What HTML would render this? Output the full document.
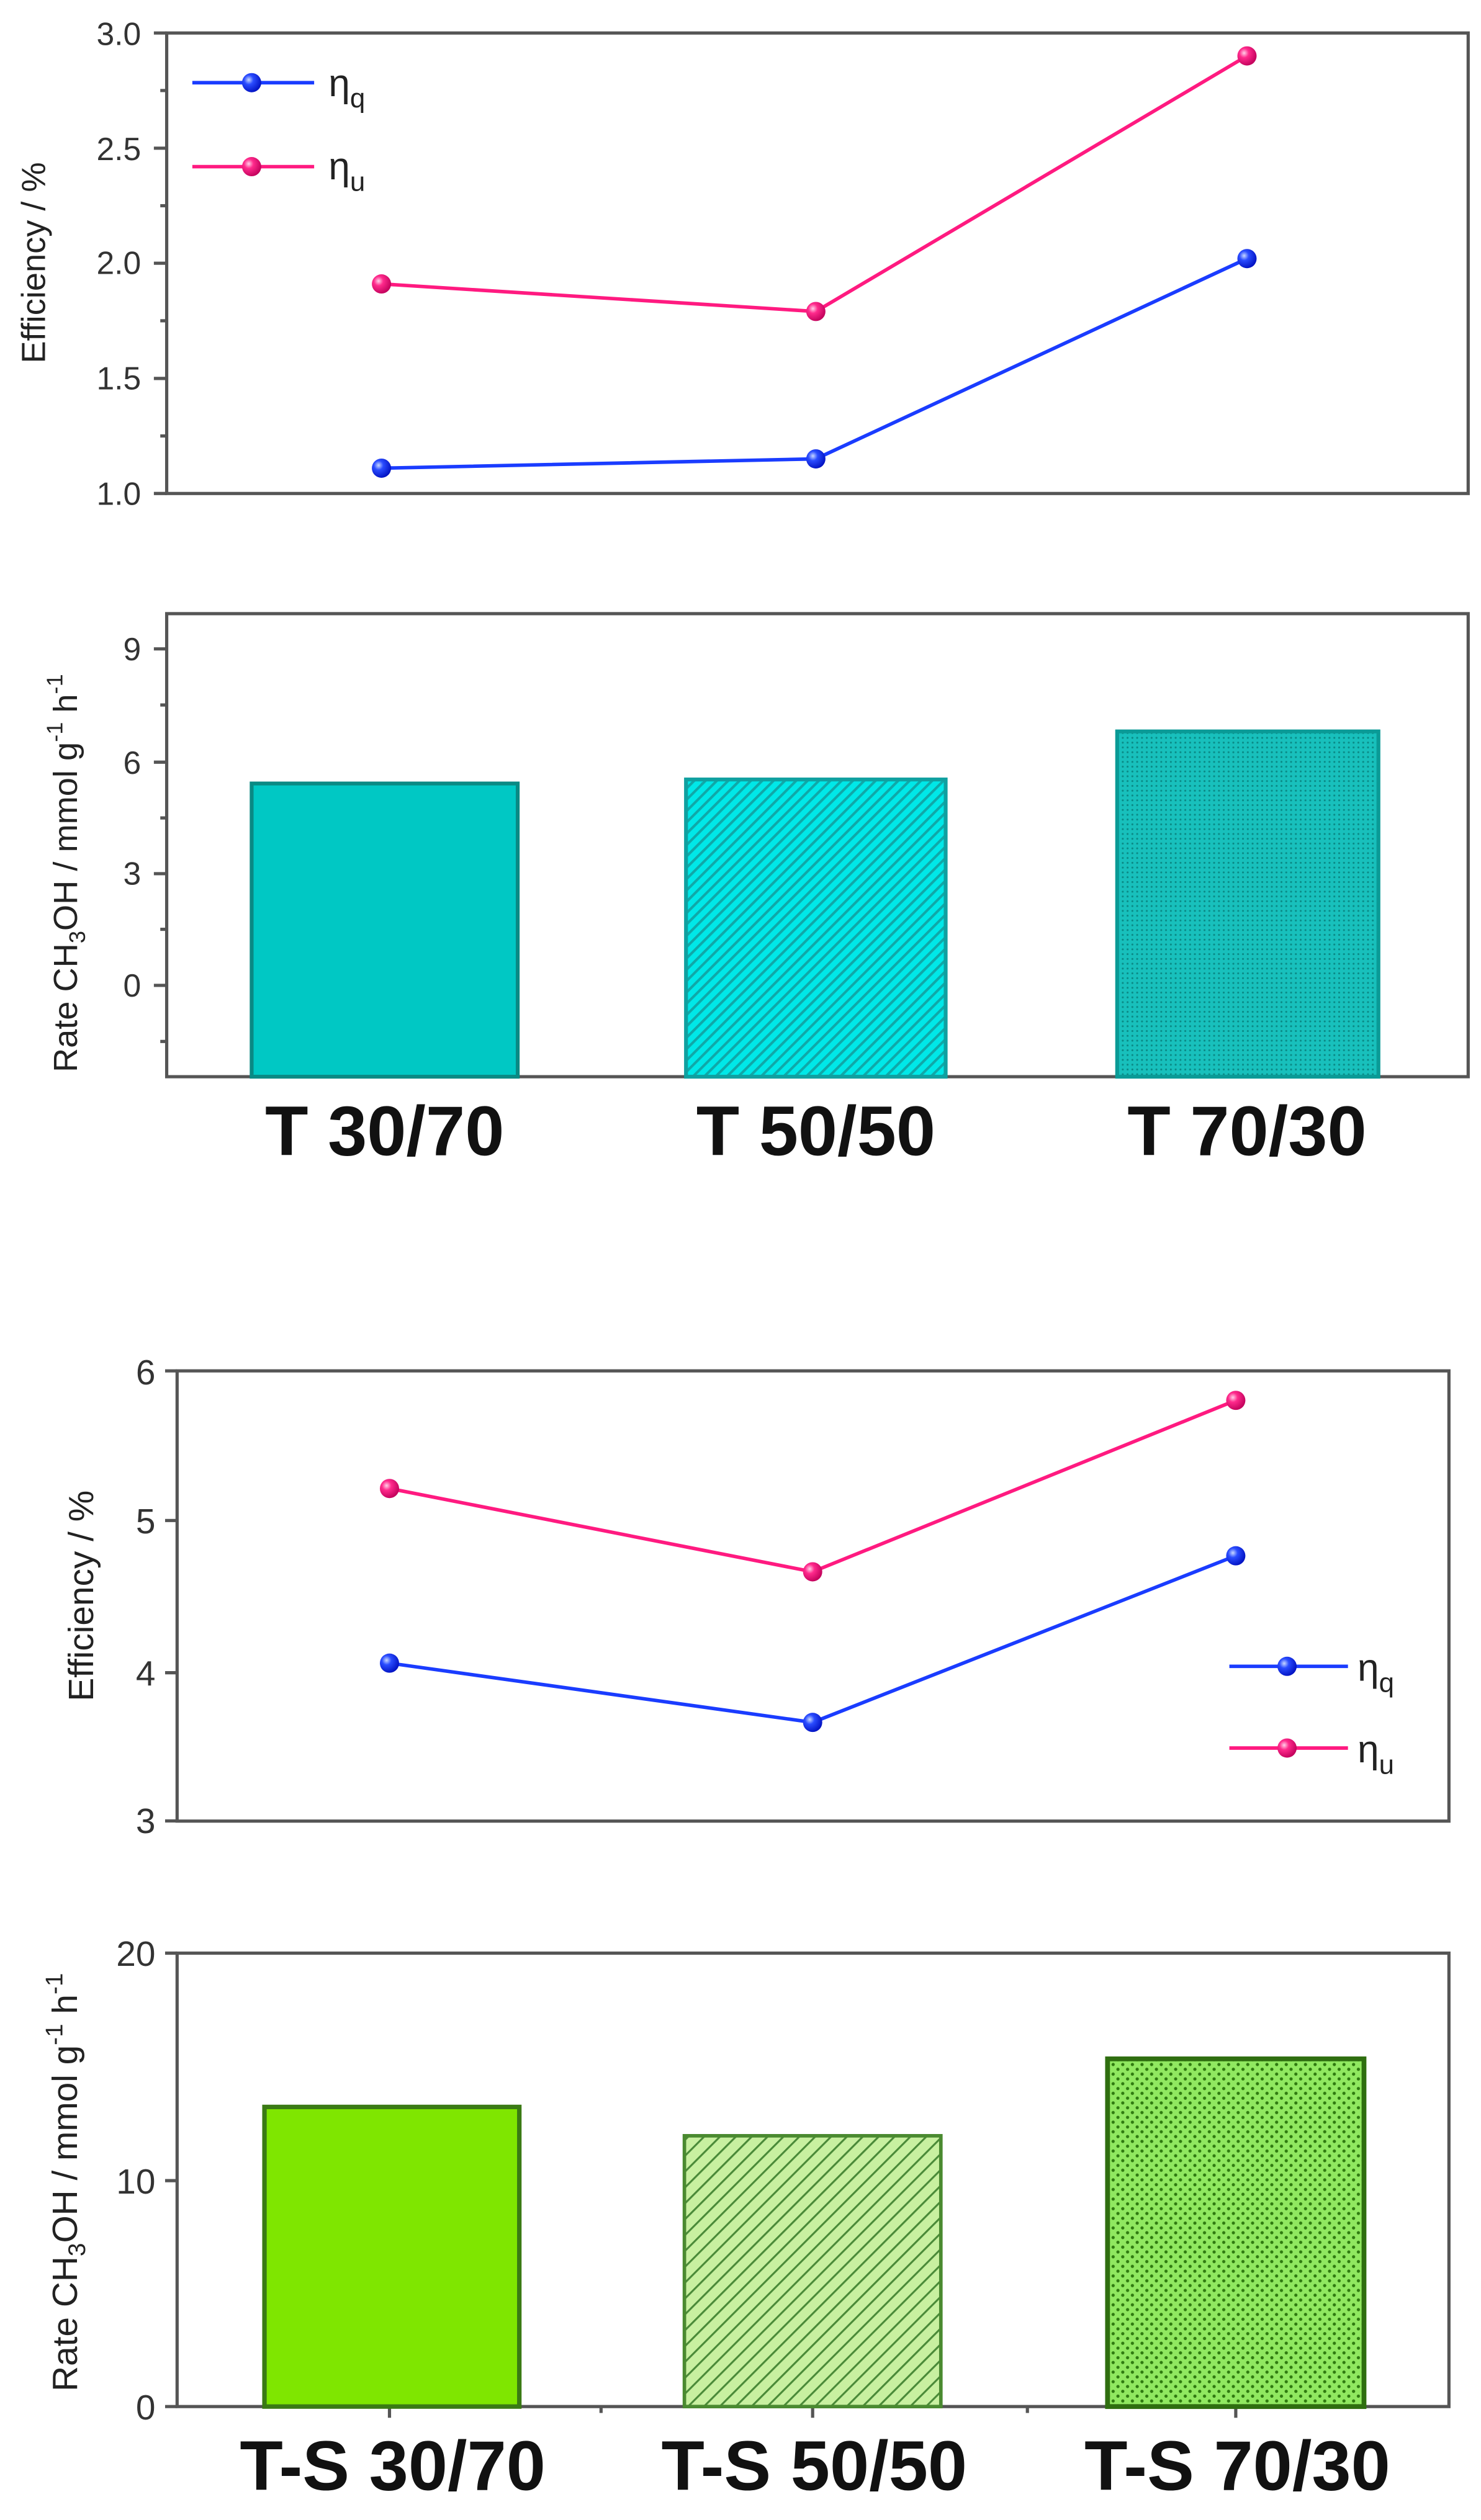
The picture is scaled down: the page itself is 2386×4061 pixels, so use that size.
<!DOCTYPE html>
<html><head><meta charset="utf-8"><style>html,body{margin:0;padding:0;background:#fff}svg{display:block}</style></head>
<body>
<svg width="2386" height="4061" viewBox="0 0 924 1572.8" preserveAspectRatio="none" xmlns="http://www.w3.org/2000/svg" font-family="Liberation Sans, Arial, sans-serif">
<defs>
<pattern id="hatchC" patternUnits="userSpaceOnUse" width="5" height="5" patternTransform="rotate(45)">
<rect width="5" height="5" fill="#00e8e8"/><rect width="1.6" height="5" fill="#10a8a8"/></pattern>
<pattern id="dotC" patternUnits="userSpaceOnUse" width="3" height="3">
<rect width="3" height="3" fill="#18c0bc"/><circle cx="1.5" cy="1.5" r="0.6" fill="#0a8a86"/></pattern>
<pattern id="hatchG" patternUnits="userSpaceOnUse" width="7" height="7" patternTransform="rotate(45)">
<rect width="7" height="7" fill="#c8f0a0"/><rect width="1.2" height="7" fill="#4a8a38"/></pattern>
<pattern id="dotG" patternUnits="userSpaceOnUse" width="6" height="6">
<rect width="6" height="6" fill="#90e860"/><circle cx="1.5" cy="1.5" r="1" fill="#2f7a10"/><circle cx="4.5" cy="4.5" r="1" fill="#2f7a10"/></pattern>
<radialGradient id="gb" cx="0.35" cy="0.35" r="0.7"><stop offset="0" stop-color="#c8d8ff"/><stop offset="0.35" stop-color="#2a4cff"/><stop offset="1" stop-color="#0010c0"/></radialGradient>
<radialGradient id="gp" cx="0.35" cy="0.35" r="0.7"><stop offset="0" stop-color="#ffd0e8"/><stop offset="0.35" stop-color="#ff2a8c"/><stop offset="1" stop-color="#c0005a"/></radialGradient>
</defs>

<!-- ===== Chart 1 top: efficiency ===== -->
<g stroke="#555" stroke-width="2" fill="none">
<rect x="104" y="20.6" width="812" height="287.4"/>
<line x1="96" y1="20.6" x2="104" y2="20.6"/><line x1="96" y1="92.5" x2="104" y2="92.5"/>
<line x1="96" y1="164.3" x2="104" y2="164.3"/><line x1="96" y1="236.2" x2="104" y2="236.2"/>
<line x1="96" y1="308" x2="104" y2="308"/>
<line x1="100" y1="56.5" x2="104" y2="56.5"/><line x1="100" y1="128.4" x2="104" y2="128.4"/>
<line x1="100" y1="200.2" x2="104" y2="200.2"/><line x1="100" y1="272.1" x2="104" y2="272.1"/>
</g>
<g font-size="20" fill="#333" text-anchor="end">
<text x="88" y="28">3.0</text><text x="88" y="100">2.5</text><text x="88" y="171">2.0</text>
<text x="88" y="243">1.5</text><text x="88" y="315">1.0</text>
</g>
<text transform="translate(28,164) rotate(-90)" font-size="21" fill="#222" text-anchor="middle">Efficiency / %</text>
<polyline points="238,177.2 509,194.4 778,34.9" fill="none" stroke="#ff1a80" stroke-width="2.2"/>
<polyline points="238,292.2 509,286.4 778,161.4" fill="none" stroke="#1a3cff" stroke-width="2.2"/>
<g fill="url(#gp)"><circle cx="238" cy="177.2" r="6"/><circle cx="509" cy="194.4" r="6"/><circle cx="778" cy="34.9" r="6"/></g>
<g fill="url(#gb)"><circle cx="238" cy="292.2" r="6"/><circle cx="509" cy="286.4" r="6"/><circle cx="778" cy="161.4" r="6"/></g>
<line x1="120" y1="51.6" x2="196" y2="51.6" stroke="#1a3cff" stroke-width="2.2"/>
<circle cx="157" cy="51.6" r="6" fill="url(#gb)"/>
<line x1="120" y1="104" x2="196" y2="104" stroke="#ff1a80" stroke-width="2.2"/>
<circle cx="157" cy="104" r="6" fill="url(#gp)"/>
<text x="205" y="60" font-size="24" fill="#222">η<tspan font-size="17" dy="7">q</tspan></text>
<text x="205" y="112" font-size="24" fill="#222">η<tspan font-size="17" dy="7">u</tspan></text>

<!-- ===== Chart 1 bottom: bars ===== -->
<g stroke="#555" stroke-width="2" fill="none">
<rect x="104" y="383" width="812" height="289"/>
<line x1="96" y1="405" x2="104" y2="405"/><line x1="96" y1="475.7" x2="104" y2="475.7"/>
<line x1="96" y1="545.3" x2="104" y2="545.3"/><line x1="96" y1="615" x2="104" y2="615"/>
<line x1="100" y1="440" x2="104" y2="440"/><line x1="100" y1="510.5" x2="104" y2="510.5"/>
<line x1="100" y1="580" x2="104" y2="580"/><line x1="100" y1="650" x2="104" y2="650"/>
</g>
<g font-size="20" fill="#333" text-anchor="end">
<text x="88" y="412">9</text><text x="88" y="483">6</text><text x="88" y="552">3</text><text x="88" y="622">0</text>
</g>
<text transform="translate(48,545) rotate(-90)" font-size="21" fill="#222" text-anchor="middle">Rate CH<tspan font-size="14" dy="5">3</tspan><tspan dy="-5">OH / mmol  g</tspan><tspan font-size="14" dy="-9">-1</tspan><tspan dy="9">  h</tspan><tspan font-size="14" dy="-9">-1</tspan></text>
<rect x="157" y="489" width="166" height="183" fill="#00c8c4" stroke="#0a8a84" stroke-width="2.4"/>
<rect x="428" y="486.5" width="162" height="185.5" fill="url(#hatchC)" stroke="#10a0a0" stroke-width="2.4"/>
<rect x="697" y="456.5" width="163" height="215.5" fill="url(#dotC)" stroke="#0a9a96" stroke-width="2.4"/>
<g font-size="44" font-weight="bold" fill="#111" text-anchor="middle">
<text x="240" y="721">T 30/70</text><text x="509" y="721">T 50/50</text><text x="778" y="721">T 70/30</text>
</g>

<!-- ===== Chart 2 top: efficiency ===== -->
<g stroke="#555" stroke-width="2" fill="none">
<rect x="110.5" y="855.6" width="793.5" height="281"/>
<line x1="103" y1="855.6" x2="110.5" y2="855.6"/><line x1="103" y1="949" x2="110.5" y2="949"/>
<line x1="103" y1="1044" x2="110.5" y2="1044"/><line x1="103" y1="1136.5" x2="110.5" y2="1136.5"/>
</g>
<g font-size="22" fill="#333" text-anchor="end">
<text x="97" y="864">6</text><text x="97" y="957">5</text><text x="97" y="1052">4</text><text x="97" y="1144">3</text>
</g>
<text transform="translate(58,996) rotate(-90)" font-size="22" fill="#222" text-anchor="middle">Efficiency / %</text>
<polyline points="243,929 507,981 771,874" fill="none" stroke="#ff1a80" stroke-width="2.2"/>
<polyline points="243,1038 507,1075 771,971" fill="none" stroke="#1a3cff" stroke-width="2.2"/>
<g fill="url(#gp)"><circle cx="243" cy="929" r="6"/><circle cx="507" cy="981" r="6"/><circle cx="771" cy="874" r="6"/></g>
<g fill="url(#gb)"><circle cx="243" cy="1038" r="6"/><circle cx="507" cy="1075" r="6"/><circle cx="771" cy="971" r="6"/></g>
<line x1="767" y1="1040" x2="841" y2="1040" stroke="#1a3cff" stroke-width="2.2"/>
<circle cx="803" cy="1040" r="6" fill="url(#gb)"/>
<line x1="767" y1="1091" x2="841" y2="1091" stroke="#ff1a80" stroke-width="2.2"/>
<circle cx="803" cy="1091" r="6" fill="url(#gp)"/>
<text x="847" y="1049" font-size="24" fill="#222">η<tspan font-size="17" dy="7">q</tspan></text>
<text x="847" y="1100" font-size="24" fill="#222">η<tspan font-size="17" dy="7">u</tspan></text>

<!-- ===== Chart 2 bottom: bars ===== -->
<g stroke="#555" stroke-width="2" fill="none">
<rect x="110.5" y="1219" width="793.5" height="283"/>
<line x1="103" y1="1219" x2="110.5" y2="1219"/><line x1="103" y1="1361" x2="110.5" y2="1361"/>
<line x1="103" y1="1502" x2="110.5" y2="1502"/>
<line x1="243" y1="1502" x2="243" y2="1509"/><line x1="375" y1="1502" x2="375" y2="1506"/>
<line x1="507" y1="1502" x2="507" y2="1509"/><line x1="641" y1="1502" x2="641" y2="1506"/>
<line x1="771" y1="1502" x2="771" y2="1509"/>
</g>
<g font-size="22" fill="#333" text-anchor="end">
<text x="97" y="1227">20</text><text x="97" y="1369">10</text><text x="97" y="1510">0</text>
</g>
<text transform="translate(48,1362) rotate(-90)" font-size="22" fill="#222" text-anchor="middle">Rate CH<tspan font-size="15" dy="5">3</tspan><tspan dy="-5">OH / mmol  g</tspan><tspan font-size="15" dy="-9">-1</tspan><tspan dy="9">  h</tspan><tspan font-size="15" dy="-9">-1</tspan></text>
<rect x="165" y="1315" width="159" height="187" fill="#7fe600" stroke="#3a7a14" stroke-width="2.8"/>
<rect x="427" y="1333" width="160" height="169" fill="url(#hatchG)" stroke="#4a8a30" stroke-width="2.2"/>
<rect x="691" y="1285" width="160" height="217" fill="url(#dotG)" stroke="#2f6e10" stroke-width="3"/>
<g font-size="44" font-weight="bold" fill="#111" text-anchor="middle">
<text x="245" y="1554">T-S 30/70</text><text x="508" y="1554">T-S 50/50</text><text x="772" y="1554">T-S 70/30</text>
</g>
</svg>
</body></html>
